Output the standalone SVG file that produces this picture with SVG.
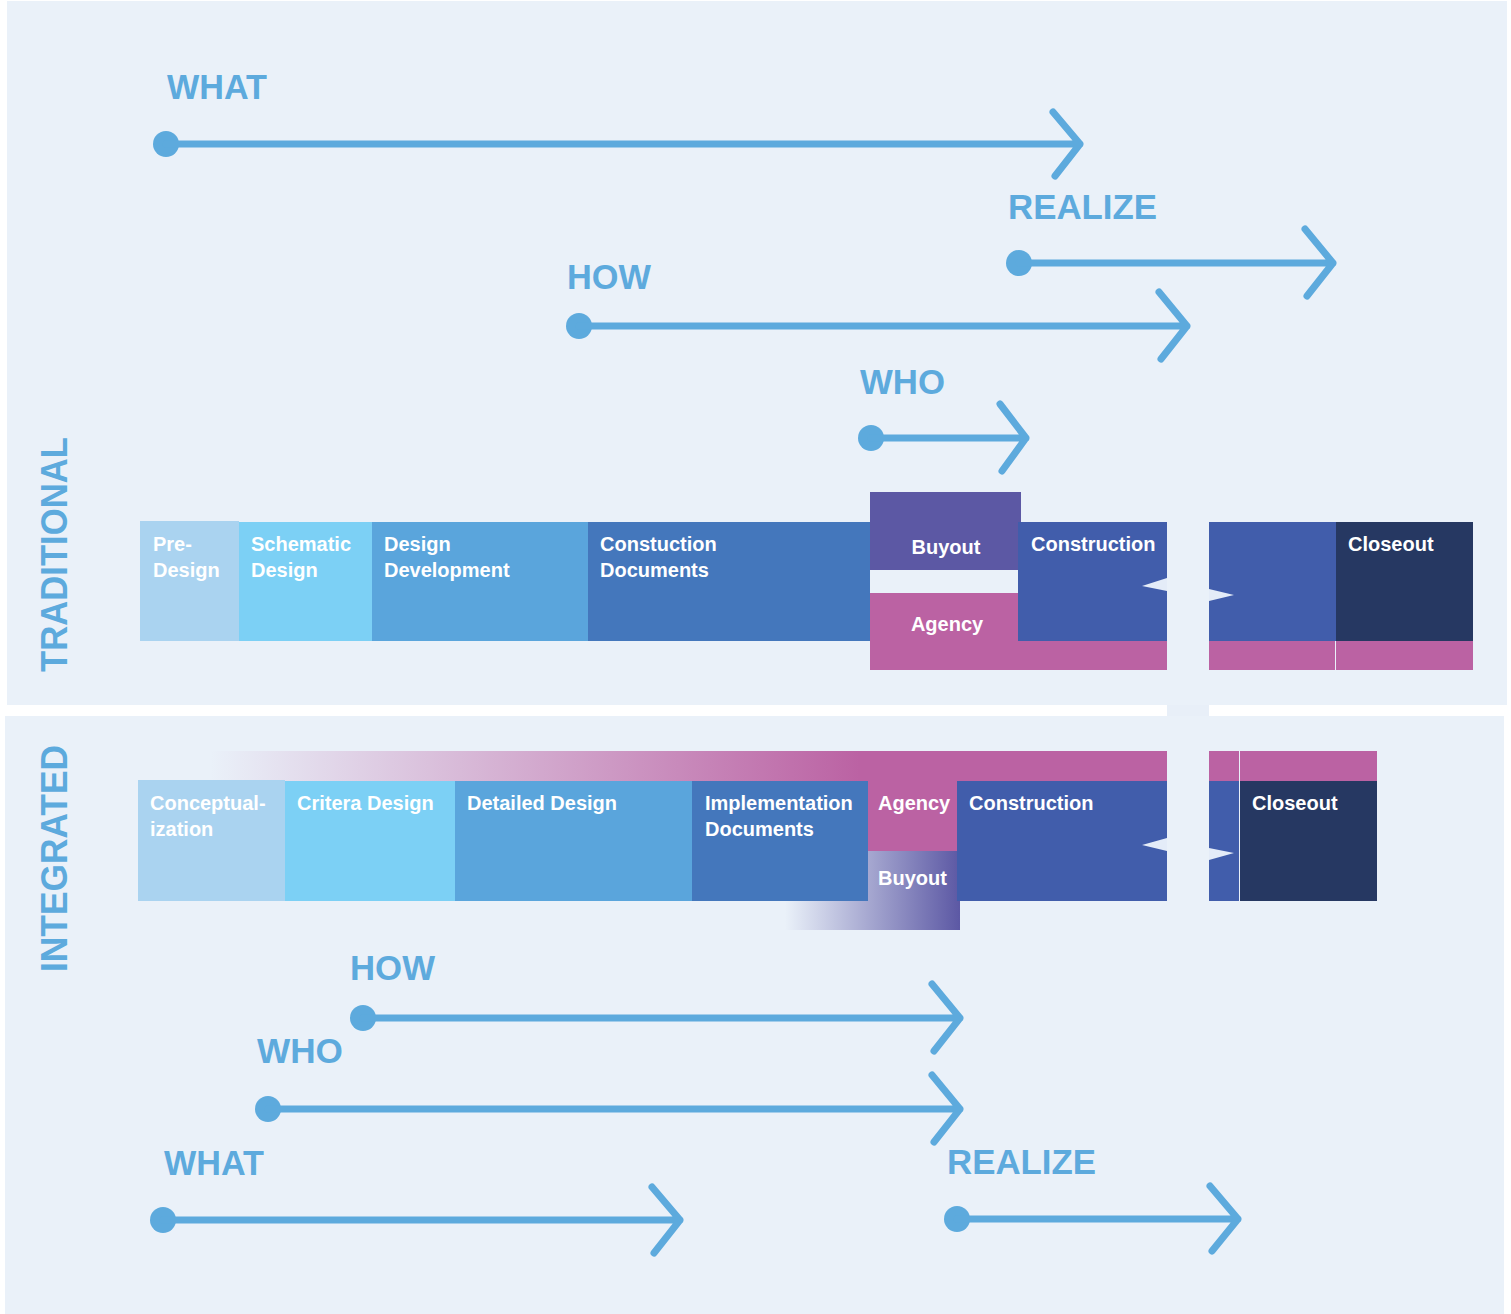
<svg xmlns="http://www.w3.org/2000/svg" width="1511" height="1314" viewBox="0 0 1511 1314">
<style>
.panel{fill:#EAF1F9}
.lbl{font-family:"Liberation Sans",Arial,sans-serif;font-weight:bold;font-size:35px;fill:#5DAADD}
.side{font-family:"Liberation Sans",Arial,sans-serif;font-weight:bold;font-size:36px;fill:#5DAADD}
.bx{font-family:"Liberation Sans",Arial,sans-serif;font-weight:bold;font-size:20px;fill:#FFFFFF}
.ln{stroke:#5DAADD;stroke-width:7;fill:none;stroke-linecap:round;stroke-linejoin:round}
.dot{fill:#5DAADD}
.brk{fill:#E4ECF8}
</style>
<defs>
<linearGradient id="pinkFade" x1="210" y1="0" x2="860" y2="0" gradientUnits="userSpaceOnUse">
<stop offset="0" stop-color="#BB62A3" stop-opacity="0"/>
<stop offset="1" stop-color="#BB62A3" stop-opacity="1"/>
</linearGradient>
<linearGradient id="purpleFade" x1="785" y1="0" x2="960" y2="0" gradientUnits="userSpaceOnUse">
<stop offset="0" stop-color="#5C58A4" stop-opacity="0"/>
<stop offset="1" stop-color="#5C58A4" stop-opacity="1"/>
</linearGradient>
</defs>
<rect width="1511" height="1314" fill="#FFFFFF"/>
<rect class="panel" x="7" y="1" width="1500" height="704"/>
<rect class="panel" x="5" y="716" width="1499" height="598"/>
<rect x="1167" y="705" width="42" height="11" fill="#E8EFF8"/>

<text class="side" transform="translate(67,672) rotate(-90)" textLength="235" lengthAdjust="spacingAndGlyphs">TRADITIONAL</text>
<text class="side" transform="translate(67,972) rotate(-90)" textLength="227" lengthAdjust="spacingAndGlyphs">INTEGRATED</text>

<g id="connectors">
<g id="t-what"><circle class="dot" cx="166" cy="144" r="13"/><path class="ln" d="M166 144H1080M1053 112L1080 144L1055 176"/></g>
<g id="t-realize"><circle class="dot" cx="1019" cy="263" r="13"/><path class="ln" d="M1019 263H1333M1305 229L1333 263L1307 296"/></g>
<g id="t-how"><circle class="dot" cx="579" cy="326" r="13"/><path class="ln" d="M579 326H1187M1159 292L1187 326L1161 359"/></g>
<g id="t-who"><circle class="dot" cx="871" cy="438" r="13"/><path class="ln" d="M871 438H1026M1000 404L1026 438L1002 471"/></g>
<g id="i-how"><circle class="dot" cx="363" cy="1018" r="13"/><path class="ln" d="M363 1018H960M932 984L960 1018L934 1051"/></g>
<g id="i-who"><circle class="dot" cx="268" cy="1109" r="13"/><path class="ln" d="M268 1109H960M932 1075L960 1109L934 1142"/></g>
<g id="i-what"><circle class="dot" cx="163" cy="1220" r="13"/><path class="ln" d="M163 1220H680M652 1187L680 1220L654 1253"/></g>
<g id="i-realize"><circle class="dot" cx="957" cy="1219" r="13"/><path class="ln" d="M957 1219H1238M1210 1186L1238 1219L1212 1251"/></g>
</g>

<text class="lbl" x="167" y="99" textLength="100" lengthAdjust="spacingAndGlyphs">WHAT</text>
<text class="lbl" x="1008" y="219" textLength="149" lengthAdjust="spacingAndGlyphs">REALIZE</text>
<text class="lbl" x="567" y="289" textLength="84" lengthAdjust="spacingAndGlyphs">HOW</text>
<text class="lbl" x="860" y="394" textLength="85" lengthAdjust="spacingAndGlyphs">WHO</text>
<text class="lbl" x="350" y="980" textLength="85" lengthAdjust="spacingAndGlyphs">HOW</text>
<text class="lbl" x="257" y="1063" textLength="86" lengthAdjust="spacingAndGlyphs">WHO</text>
<text class="lbl" x="164" y="1175" textLength="100" lengthAdjust="spacingAndGlyphs">WHAT</text>
<text class="lbl" x="947" y="1174" textLength="149" lengthAdjust="spacingAndGlyphs">REALIZE</text>

<!-- Traditional -->
<g id="t-predesign"><rect x="140" y="521" width="99" height="120" fill="#AAD3F0"/><text class="bx" x="153" y="551">Pre-</text><text class="bx" x="153" y="577">Design</text></g>
<g id="t-schematic"><rect x="239" y="522" width="133" height="119" fill="#7CD0F5"/><text class="bx" x="251" y="551">Schematic</text><text class="bx" x="251" y="577">Design</text></g>
<g id="t-dd"><rect x="372" y="522" width="216" height="119" fill="#5AA5DC"/><text class="bx" x="384" y="551">Design</text><text class="bx" x="384" y="577">Development</text></g>
<g id="t-cd"><rect x="588" y="522" width="282" height="119" fill="#4477BC"/><text class="bx" x="600" y="551">Constuction</text><text class="bx" x="600" y="577">Documents</text></g>
<g id="t-buyout"><rect x="870" y="492" width="151" height="78" fill="#5C58A4"/><text class="bx" x="946" y="554" text-anchor="middle">Buyout</text></g>
<g id="t-agency"><rect x="870" y="593" width="148" height="48" fill="#BB62A3"/><rect x="870" y="641" width="297" height="29" fill="#BB62A3"/><text class="bx" x="947" y="631" text-anchor="middle">Agency</text></g>
<g id="t-construction"><rect x="1018" y="522" width="149" height="119" fill="#415DAB"/><rect x="1209" y="522" width="127" height="119" fill="#415DAB"/><rect x="1209" y="641" width="126" height="29" fill="#BB62A3"/><text class="bx" x="1031" y="551">Construction</text>
<polygon class="brk" points="1142,586 1167,578 1167,591"/><polygon class="brk" points="1209,589 1234,595 1209,601"/></g>
<g id="t-closeout"><rect x="1336" y="522" width="137" height="119" fill="#263862"/><rect x="1336" y="641" width="137" height="29" fill="#BB62A3"/><text class="bx" x="1348" y="551">Closeout</text></g>

<!-- Integrated -->
<g id="i-agency-band"><rect x="210" y="751" width="957" height="30" fill="url(#pinkFade)"/><rect x="1209" y="751" width="30" height="30" fill="#BB62A3"/><rect x="1240" y="751" width="137" height="30" fill="#BB62A3"/></g>
<g id="i-buyout"><rect x="785" y="851" width="175" height="79" fill="url(#purpleFade)"/><text class="bx" x="878" y="885">Buyout</text></g>
<g id="i-concept"><rect x="138" y="780" width="147" height="121" fill="#AAD3F0"/><text class="bx" x="150" y="810">Conceptual-</text><text class="bx" x="150" y="836">ization</text></g>
<g id="i-criteria"><rect x="285" y="781" width="170" height="120" fill="#7CD0F5"/><text class="bx" x="297" y="810">Critera Design</text></g>
<g id="i-detailed"><rect x="455" y="781" width="237" height="120" fill="#5AA5DC"/><text class="bx" x="467" y="810">Detailed Design</text></g>
<g id="i-impl"><rect x="692" y="781" width="176" height="120" fill="#4477BC"/><text class="bx" x="705" y="810">Implementation</text><text class="bx" x="705" y="836">Documents</text></g>
<g id="i-agency"><rect x="868" y="781" width="89" height="70" fill="#BB62A3"/><text class="bx" x="878" y="810">Agency</text></g>
<g id="i-construction"><rect x="957" y="781" width="210" height="120" fill="#415DAB"/><rect x="1209" y="781" width="30" height="120" fill="#415DAB"/><text class="bx" x="969" y="810">Construction</text>
<polygon class="brk" points="1142,845 1167,838 1167,851"/><polygon class="brk" points="1209,848 1234,853 1209,860"/></g>
<g id="i-closeout"><rect x="1240" y="781" width="137" height="120" fill="#263862"/><text class="bx" x="1252" y="810">Closeout</text></g>
</svg>
